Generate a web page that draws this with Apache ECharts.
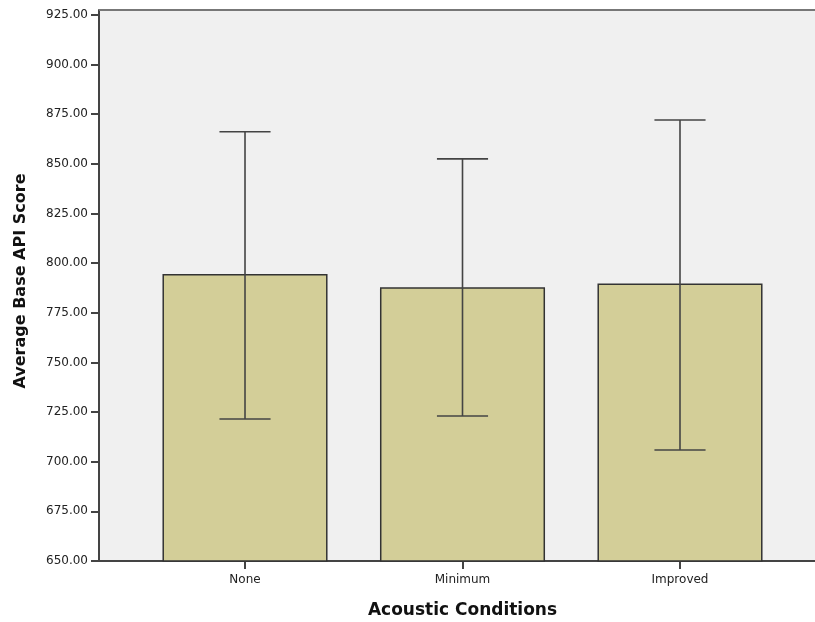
<!DOCTYPE html>
<html>
<head>
<meta charset="utf-8">
<script src="https://cdn.jsdelivr.net/npm/echarts@6/dist/echarts.min.js"></script>
<style>html,body{margin:0;padding:0;background:#fff;}#c{width:815px;height:622px;}</style>
</head>
<body>
<div id="c"></div>
<script>
const categories = ['None', 'Minimum', 'Improved'];
const means = [794.2, 787.5, 789.4];
const errLow = [721.5, 723.0, 705.9];
const errHigh = [866.2, 852.5, 872.1];
const yTicks = [650, 675, 700, 725, 750, 775, 800, 825, 850, 875, 900, 925];
const xTitle = 'Acoustic Conditions';
const yTitle = 'Average Base API Score';

const chart = echarts.init(document.getElementById('c'));
const barData = categories.map((c, i) => [i, means[i]]);
const errData = categories.map((c, i) => [i, errLow[i], errHigh[i]]);
const font = '"DejaVu Sans", Verdana, sans-serif';

chart.setOption({
  animation: false,
  backgroundColor: '#ffffff',
  grid: { left: 99, right: 0, top: 10, bottom: 61, show: true, backgroundColor: '#f0f0f0', borderWidth: 0 },
  xAxis: {
    type: 'value', min: -0.6713, max: 2.6207,
    splitLine: { show: false },
    axisLine: { show: true, onZero: false, lineStyle: { color: '#444', width: 2 } },
    axisTick: { show: true, customValues: [0, 1, 2], length: 8, lineStyle: { color: '#444', width: 2 } },
    axisLabel: { customValues: [0, 1, 2], formatter: v => categories[Math.round(v)] || '', color: '#222', fontFamily: font, fontSize: 12, margin: 13 }
  },
  yAxis: {
    type: 'value', min: 650, max: 927.5,
    splitLine: { show: false },
    axisLine: { show: true, onZero: false, lineStyle: { color: '#444', width: 2 } },
    axisTick: { show: true, customValues: yTicks, length: 8, lineStyle: { color: '#444', width: 2 } },
    axisLabel: { customValues: yTicks, formatter: v => v.toFixed(2), color: '#222', fontFamily: font, fontSize: 12, margin: 11 }
  },
  graphic: [
    { type: 'line', shape: { x1: 99, y1: 10, x2: 815, y2: 10 }, style: { stroke: '#777', lineWidth: 2 }, z: 10 },
    { type: 'text', x: 462.5, y: 611, style: { text: xTitle, font: 'bold 17px ' + font, fill: '#111', align: 'center', verticalAlign: 'middle' } },
    { type: 'text', x: 21, y: 281, rotation: Math.PI / 2, style: { text: yTitle, font: 'bold 16px ' + font, fill: '#111', align: 'center', verticalAlign: 'middle' } }
  ],
  series: [
    {
      type: 'custom',
      data: barData,
      encode: { x: 0, y: 1 },
      renderItem: function (params, api) {
        const top = api.coord([api.value(0), api.value(1)]);
        const base = api.coord([api.value(0), 650]);
        const w = api.size([1, 0])[0] * 0.752;
        return {
          type: 'rect',
          shape: { x: top[0] - w / 2, y: top[1], width: w, height: base[1] - top[1] },
          style: { fill: '#d3ce98', stroke: '#333', lineWidth: 1.5 }
        };
      },
      z: 2
    },
    {
      type: 'custom',
      data: errData,
      encode: { x: 0, y: [1, 2] },
      renderItem: function (params, api) {
        const x = api.value(0);
        const lo = api.coord([x, api.value(1)]);
        const hi = api.coord([x, api.value(2)]);
        const cw = api.size([1, 0])[0] * 0.235 / 2;
        const st = { stroke: '#444', lineWidth: 1.6 };
        return {
          type: 'group',
          children: [
            { type: 'line', shape: { x1: hi[0], y1: hi[1], x2: lo[0], y2: lo[1] }, style: st },
            { type: 'line', shape: { x1: hi[0] - cw, y1: hi[1], x2: hi[0] + cw, y2: hi[1] }, style: st },
            { type: 'line', shape: { x1: lo[0] - cw, y1: lo[1], x2: lo[0] + cw, y2: lo[1] }, style: st }
          ]
        };
      },
      z: 3
    }
  ]
});
</script>
</body>
</html>
